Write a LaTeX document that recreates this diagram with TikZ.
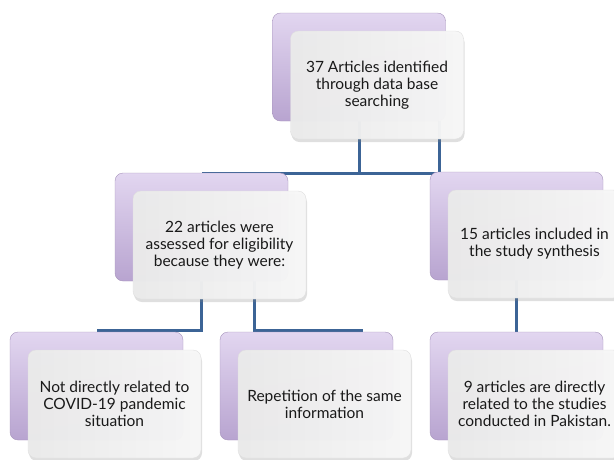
\documentclass[tikz,border=0pt]{standalone}
\usepackage{fontspec}
\setmainfont{Lato}
\usetikzlibrary{shadows,backgrounds}

\definecolor{linkblue}{RGB}{60,100,150}
\definecolor{lilaclight}{RGB}{226,214,240}
\definecolor{lilacdark}{RGB}{184,164,208}

\tikzset{
    backbox/.style={rounded corners=8pt, minimum width=173pt, minimum height=108pt,
        draw=lilacdark!90!black, top color=lilaclight, bottom color=lilacdark},
    frontbox/.style={rounded corners=8pt, minimum width=173pt, minimum height=108pt,
        draw=gray!25, left color=gray!16, right color=gray!6, fill opacity=0.97, text opacity=1,
        drop shadow={opacity=0.25, shadow xshift=1pt, shadow yshift=-3pt},
        align=center, text=black!90, font=\fontsize{15.5}{16.8}\selectfont},
    link/.style={draw=linkblue, line width=3pt}
}

\begin{document}
\begin{tikzpicture}[x=1pt,y=-1pt]
        \useasboundingbox (0,0) rectangle (614,459);
        \foreach \n/\x/\y/\t in {
            srch/359/67/{37 Articles identified\\through data base\\searching},
            elig/201.5/227/{22 articles were\\assessed for eligibility\\because they were:},
            incl/516.5/226/{15 articles included in\\the study synthesis},
            notrel/96.5/386/{Not directly related to\\COVID-19 pandemic\\situation},
            repet/306.5/386/{Repetition of the same\\information},
            pak/516.5/386/{9 articles are directly\\related to the studies\\conducted in Pakistan.}}
            {\node[backbox] (\n-b) at (\x,\y) {};
             \node[frontbox] (\n) at (\x+18,\y+18) {\t};
            }
        % connectors behind the boxes
        \begin{scope}[on background layer]
            \draw[link] (srch-b.south) |- ([yshift=-1pt]elig-b.north);
            \draw[link] ([xshift=80pt]srch-b.south) |- ([yshift=-1pt]srch-b.south |- elig-b.north);
            \draw[link] (elig-b.south) |- ([yshift=1pt]notrel-b.north);
            \draw[link] ([xshift=53pt]elig-b.south) |- ([xshift=56pt,yshift=1pt]repet-b.north);
            \draw[link] (incl-b.south) -- (pak-b.north);
        \end{scope}
    \end{tikzpicture}
\end{document}
